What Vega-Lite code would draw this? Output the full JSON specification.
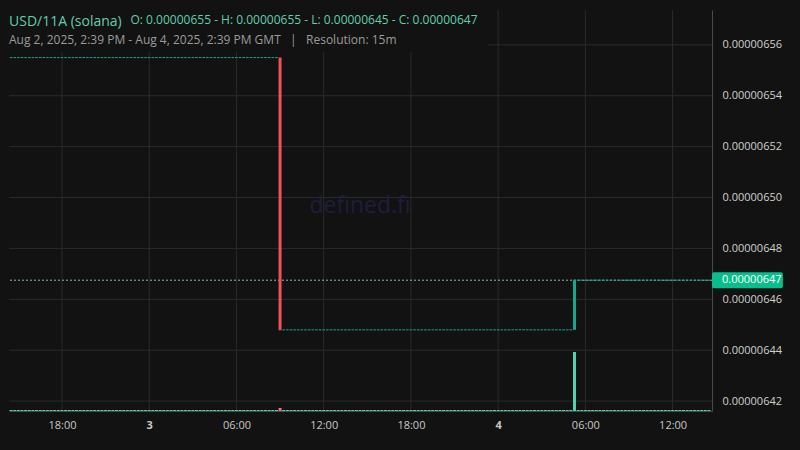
{
"$schema": "https://vega.github.io/schema/vega-lite/v6.json",
"width": 703, "height": 401,
"autosize": "none",
"padding": {"left": 9, "top": 10, "right": 88, "bottom": 39},
"background": "#121212",
"config": {"view": {"stroke": null}, "font": "Open Sans"},
"title": {"text": "USD/11A (solana)", "subtitle": "Aug 2, 2025, 2:39 PM - Aug 4, 2025, 2:39 PM GMT\u00a0\u00a0\u00a0|\u00a0\u00a0\u00a0Resolution: 15m", "anchor": "start", "frame": "group", "orient": "top", "offset": -36, "fontSize": 14, "fontWeight": "normal", "color": "#5fcfac", "font": "Open Sans", "subtitleFont": "Open Sans", "subtitleFontSize": 12, "subtitleColor": "#9b9b9b", "subtitlePadding": 6},
"datasets": {
"vg1": [{"t":"2025-08-02T18:00Z"},{"t":"2025-08-03T00:00Z"},{"t":"2025-08-03T06:00Z"},{"t":"2025-08-03T12:00Z"},{"t":"2025-08-03T18:00Z"}],
"vg2": [{"t":"2025-08-04T00:00Z"},{"t":"2025-08-04T06:00Z"},{"t":"2025-08-04T12:00Z"}],
"hg": [{"p":6.42e-6},{"p":6.44e-6},{"p":6.46e-6},{"p":6.48e-6},{"p":6.50e-6},{"p":6.52e-6},{"p":6.54e-6}],
"candles": [
{"t":"2025-08-02T14:30Z","o":6.555e-6,"c":6.555e-6,"v":20},{"t":"2025-08-02T14:45Z","o":6.555e-6,"c":6.555e-6,"v":20},
{"t":"2025-08-02T15:00Z","o":6.555e-6,"c":6.555e-6,"v":20},{"t":"2025-08-02T15:15Z","o":6.555e-6,"c":6.555e-6,"v":20},{"t":"2025-08-02T15:30Z","o":6.555e-6,"c":6.555e-6,"v":20},{"t":"2025-08-02T15:45Z","o":6.555e-6,"c":6.555e-6,"v":20},
{"t":"2025-08-02T16:00Z","o":6.555e-6,"c":6.555e-6,"v":20},{"t":"2025-08-02T16:15Z","o":6.555e-6,"c":6.555e-6,"v":20},{"t":"2025-08-02T16:30Z","o":6.555e-6,"c":6.555e-6,"v":20},{"t":"2025-08-02T16:45Z","o":6.555e-6,"c":6.555e-6,"v":20},
{"t":"2025-08-02T17:00Z","o":6.555e-6,"c":6.555e-6,"v":20},{"t":"2025-08-02T17:15Z","o":6.555e-6,"c":6.555e-6,"v":20},{"t":"2025-08-02T17:30Z","o":6.555e-6,"c":6.555e-6,"v":20},{"t":"2025-08-02T17:45Z","o":6.555e-6,"c":6.555e-6,"v":20},
{"t":"2025-08-02T18:00Z","o":6.555e-6,"c":6.555e-6,"v":20},{"t":"2025-08-02T18:15Z","o":6.555e-6,"c":6.555e-6,"v":20},{"t":"2025-08-02T18:30Z","o":6.555e-6,"c":6.555e-6,"v":20},{"t":"2025-08-02T18:45Z","o":6.555e-6,"c":6.555e-6,"v":20},
{"t":"2025-08-02T19:00Z","o":6.555e-6,"c":6.555e-6,"v":20},{"t":"2025-08-02T19:15Z","o":6.555e-6,"c":6.555e-6,"v":20},{"t":"2025-08-02T19:30Z","o":6.555e-6,"c":6.555e-6,"v":20},{"t":"2025-08-02T19:45Z","o":6.555e-6,"c":6.555e-6,"v":20},
{"t":"2025-08-02T20:00Z","o":6.555e-6,"c":6.555e-6,"v":20},{"t":"2025-08-02T20:15Z","o":6.555e-6,"c":6.555e-6,"v":20},{"t":"2025-08-02T20:30Z","o":6.555e-6,"c":6.555e-6,"v":20},{"t":"2025-08-02T20:45Z","o":6.555e-6,"c":6.555e-6,"v":20},
{"t":"2025-08-02T21:00Z","o":6.555e-6,"c":6.555e-6,"v":20},{"t":"2025-08-02T21:15Z","o":6.555e-6,"c":6.555e-6,"v":20},{"t":"2025-08-02T21:30Z","o":6.555e-6,"c":6.555e-6,"v":20},{"t":"2025-08-02T21:45Z","o":6.555e-6,"c":6.555e-6,"v":20},
{"t":"2025-08-02T22:00Z","o":6.555e-6,"c":6.555e-6,"v":20},{"t":"2025-08-02T22:15Z","o":6.555e-6,"c":6.555e-6,"v":20},{"t":"2025-08-02T22:30Z","o":6.555e-6,"c":6.555e-6,"v":20},{"t":"2025-08-02T22:45Z","o":6.555e-6,"c":6.555e-6,"v":20},
{"t":"2025-08-02T23:00Z","o":6.555e-6,"c":6.555e-6,"v":20},{"t":"2025-08-02T23:15Z","o":6.555e-6,"c":6.555e-6,"v":20},{"t":"2025-08-02T23:30Z","o":6.555e-6,"c":6.555e-6,"v":20},{"t":"2025-08-02T23:45Z","o":6.555e-6,"c":6.555e-6,"v":20},
{"t":"2025-08-03T00:00Z","o":6.555e-6,"c":6.555e-6,"v":20},{"t":"2025-08-03T00:15Z","o":6.555e-6,"c":6.555e-6,"v":20},{"t":"2025-08-03T00:30Z","o":6.555e-6,"c":6.555e-6,"v":20},{"t":"2025-08-03T00:45Z","o":6.555e-6,"c":6.555e-6,"v":20},
{"t":"2025-08-03T01:00Z","o":6.555e-6,"c":6.555e-6,"v":20},{"t":"2025-08-03T01:15Z","o":6.555e-6,"c":6.555e-6,"v":20},{"t":"2025-08-03T01:30Z","o":6.555e-6,"c":6.555e-6,"v":20},{"t":"2025-08-03T01:45Z","o":6.555e-6,"c":6.555e-6,"v":20},
{"t":"2025-08-03T02:00Z","o":6.555e-6,"c":6.555e-6,"v":20},{"t":"2025-08-03T02:15Z","o":6.555e-6,"c":6.555e-6,"v":20},{"t":"2025-08-03T02:30Z","o":6.555e-6,"c":6.555e-6,"v":20},{"t":"2025-08-03T02:45Z","o":6.555e-6,"c":6.555e-6,"v":20},
{"t":"2025-08-03T03:00Z","o":6.555e-6,"c":6.555e-6,"v":20},{"t":"2025-08-03T03:15Z","o":6.555e-6,"c":6.555e-6,"v":20},{"t":"2025-08-03T03:30Z","o":6.555e-6,"c":6.555e-6,"v":20},{"t":"2025-08-03T03:45Z","o":6.555e-6,"c":6.555e-6,"v":20},
{"t":"2025-08-03T04:00Z","o":6.555e-6,"c":6.555e-6,"v":20},{"t":"2025-08-03T04:15Z","o":6.555e-6,"c":6.555e-6,"v":20},{"t":"2025-08-03T04:30Z","o":6.555e-6,"c":6.555e-6,"v":20},{"t":"2025-08-03T04:45Z","o":6.555e-6,"c":6.555e-6,"v":20},
{"t":"2025-08-03T05:00Z","o":6.555e-6,"c":6.555e-6,"v":20},{"t":"2025-08-03T05:15Z","o":6.555e-6,"c":6.555e-6,"v":20},{"t":"2025-08-03T05:30Z","o":6.555e-6,"c":6.555e-6,"v":20},{"t":"2025-08-03T05:45Z","o":6.555e-6,"c":6.555e-6,"v":20},
{"t":"2025-08-03T06:00Z","o":6.555e-6,"c":6.555e-6,"v":20},{"t":"2025-08-03T06:15Z","o":6.555e-6,"c":6.555e-6,"v":20},{"t":"2025-08-03T06:30Z","o":6.555e-6,"c":6.555e-6,"v":20},{"t":"2025-08-03T06:45Z","o":6.555e-6,"c":6.555e-6,"v":20},
{"t":"2025-08-03T07:00Z","o":6.555e-6,"c":6.555e-6,"v":20},{"t":"2025-08-03T07:15Z","o":6.555e-6,"c":6.555e-6,"v":20},{"t":"2025-08-03T07:30Z","o":6.555e-6,"c":6.555e-6,"v":20},{"t":"2025-08-03T07:45Z","o":6.555e-6,"c":6.555e-6,"v":20},
{"t":"2025-08-03T08:00Z","o":6.555e-6,"c":6.555e-6,"v":20},{"t":"2025-08-03T08:15Z","o":6.555e-6,"c":6.555e-6,"v":20},{"t":"2025-08-03T08:30Z","o":6.555e-6,"c":6.555e-6,"v":20},{"t":"2025-08-03T08:45Z","o":6.555e-6,"c":6.555e-6,"v":20},
{"t":"2025-08-03T09:00Z","o":6.555e-6,"c":6.448e-6,"v":60},{"t":"2025-08-03T09:15Z","o":6.448e-6,"c":6.448e-6,"v":20},{"t":"2025-08-03T09:30Z","o":6.448e-6,"c":6.448e-6,"v":20},{"t":"2025-08-03T09:45Z","o":6.448e-6,"c":6.448e-6,"v":20},
{"t":"2025-08-03T10:00Z","o":6.448e-6,"c":6.448e-6,"v":20},{"t":"2025-08-03T10:15Z","o":6.448e-6,"c":6.448e-6,"v":20},{"t":"2025-08-03T10:30Z","o":6.448e-6,"c":6.448e-6,"v":20},{"t":"2025-08-03T10:45Z","o":6.448e-6,"c":6.448e-6,"v":20},
{"t":"2025-08-03T11:00Z","o":6.448e-6,"c":6.448e-6,"v":20},{"t":"2025-08-03T11:15Z","o":6.448e-6,"c":6.448e-6,"v":20},{"t":"2025-08-03T11:30Z","o":6.448e-6,"c":6.448e-6,"v":20},{"t":"2025-08-03T11:45Z","o":6.448e-6,"c":6.448e-6,"v":20},
{"t":"2025-08-03T12:00Z","o":6.448e-6,"c":6.448e-6,"v":20},{"t":"2025-08-03T12:15Z","o":6.448e-6,"c":6.448e-6,"v":20},{"t":"2025-08-03T12:30Z","o":6.448e-6,"c":6.448e-6,"v":20},{"t":"2025-08-03T12:45Z","o":6.448e-6,"c":6.448e-6,"v":20},
{"t":"2025-08-03T13:00Z","o":6.448e-6,"c":6.448e-6,"v":20},{"t":"2025-08-03T13:15Z","o":6.448e-6,"c":6.448e-6,"v":20},{"t":"2025-08-03T13:30Z","o":6.448e-6,"c":6.448e-6,"v":20},{"t":"2025-08-03T13:45Z","o":6.448e-6,"c":6.448e-6,"v":20},
{"t":"2025-08-03T14:00Z","o":6.448e-6,"c":6.448e-6,"v":20},{"t":"2025-08-03T14:15Z","o":6.448e-6,"c":6.448e-6,"v":20},{"t":"2025-08-03T14:30Z","o":6.448e-6,"c":6.448e-6,"v":20},{"t":"2025-08-03T14:45Z","o":6.448e-6,"c":6.448e-6,"v":20},
{"t":"2025-08-03T15:00Z","o":6.448e-6,"c":6.448e-6,"v":20},{"t":"2025-08-03T15:15Z","o":6.448e-6,"c":6.448e-6,"v":20},{"t":"2025-08-03T15:30Z","o":6.448e-6,"c":6.448e-6,"v":20},{"t":"2025-08-03T15:45Z","o":6.448e-6,"c":6.448e-6,"v":20},
{"t":"2025-08-03T16:00Z","o":6.448e-6,"c":6.448e-6,"v":20},{"t":"2025-08-03T16:15Z","o":6.448e-6,"c":6.448e-6,"v":20},{"t":"2025-08-03T16:30Z","o":6.448e-6,"c":6.448e-6,"v":20},{"t":"2025-08-03T16:45Z","o":6.448e-6,"c":6.448e-6,"v":20},
{"t":"2025-08-03T17:00Z","o":6.448e-6,"c":6.448e-6,"v":20},{"t":"2025-08-03T17:15Z","o":6.448e-6,"c":6.448e-6,"v":20},{"t":"2025-08-03T17:30Z","o":6.448e-6,"c":6.448e-6,"v":20},{"t":"2025-08-03T17:45Z","o":6.448e-6,"c":6.448e-6,"v":20},
{"t":"2025-08-03T18:00Z","o":6.448e-6,"c":6.448e-6,"v":20},{"t":"2025-08-03T18:15Z","o":6.448e-6,"c":6.448e-6,"v":20},{"t":"2025-08-03T18:30Z","o":6.448e-6,"c":6.448e-6,"v":20},{"t":"2025-08-03T18:45Z","o":6.448e-6,"c":6.448e-6,"v":20},
{"t":"2025-08-03T19:00Z","o":6.448e-6,"c":6.448e-6,"v":20},{"t":"2025-08-03T19:15Z","o":6.448e-6,"c":6.448e-6,"v":20},{"t":"2025-08-03T19:30Z","o":6.448e-6,"c":6.448e-6,"v":20},{"t":"2025-08-03T19:45Z","o":6.448e-6,"c":6.448e-6,"v":20},
{"t":"2025-08-03T20:00Z","o":6.448e-6,"c":6.448e-6,"v":20},{"t":"2025-08-03T20:15Z","o":6.448e-6,"c":6.448e-6,"v":20},{"t":"2025-08-03T20:30Z","o":6.448e-6,"c":6.448e-6,"v":20},{"t":"2025-08-03T20:45Z","o":6.448e-6,"c":6.448e-6,"v":20},
{"t":"2025-08-03T21:00Z","o":6.448e-6,"c":6.448e-6,"v":20},{"t":"2025-08-03T21:15Z","o":6.448e-6,"c":6.448e-6,"v":20},{"t":"2025-08-03T21:30Z","o":6.448e-6,"c":6.448e-6,"v":20},{"t":"2025-08-03T21:45Z","o":6.448e-6,"c":6.448e-6,"v":20},
{"t":"2025-08-03T22:00Z","o":6.448e-6,"c":6.448e-6,"v":20},{"t":"2025-08-03T22:15Z","o":6.448e-6,"c":6.448e-6,"v":20},{"t":"2025-08-03T22:30Z","o":6.448e-6,"c":6.448e-6,"v":20},{"t":"2025-08-03T22:45Z","o":6.448e-6,"c":6.448e-6,"v":20},
{"t":"2025-08-03T23:00Z","o":6.448e-6,"c":6.448e-6,"v":20},{"t":"2025-08-03T23:15Z","o":6.448e-6,"c":6.448e-6,"v":20},{"t":"2025-08-03T23:30Z","o":6.448e-6,"c":6.448e-6,"v":20},{"t":"2025-08-03T23:45Z","o":6.448e-6,"c":6.448e-6,"v":20},
{"t":"2025-08-04T00:00Z","o":6.448e-6,"c":6.448e-6,"v":20},{"t":"2025-08-04T00:15Z","o":6.448e-6,"c":6.448e-6,"v":20},{"t":"2025-08-04T00:30Z","o":6.448e-6,"c":6.448e-6,"v":20},{"t":"2025-08-04T00:45Z","o":6.448e-6,"c":6.448e-6,"v":20},
{"t":"2025-08-04T01:00Z","o":6.448e-6,"c":6.448e-6,"v":20},{"t":"2025-08-04T01:15Z","o":6.448e-6,"c":6.448e-6,"v":20},{"t":"2025-08-04T01:30Z","o":6.448e-6,"c":6.448e-6,"v":20},{"t":"2025-08-04T01:45Z","o":6.448e-6,"c":6.448e-6,"v":20},
{"t":"2025-08-04T02:00Z","o":6.448e-6,"c":6.448e-6,"v":20},{"t":"2025-08-04T02:15Z","o":6.448e-6,"c":6.448e-6,"v":20},{"t":"2025-08-04T02:30Z","o":6.448e-6,"c":6.448e-6,"v":20},{"t":"2025-08-04T02:45Z","o":6.448e-6,"c":6.448e-6,"v":20},
{"t":"2025-08-04T03:00Z","o":6.448e-6,"c":6.448e-6,"v":20},{"t":"2025-08-04T03:15Z","o":6.448e-6,"c":6.448e-6,"v":20},{"t":"2025-08-04T03:30Z","o":6.448e-6,"c":6.448e-6,"v":20},{"t":"2025-08-04T03:45Z","o":6.448e-6,"c":6.448e-6,"v":20},
{"t":"2025-08-04T04:00Z","o":6.448e-6,"c":6.448e-6,"v":20},{"t":"2025-08-04T04:15Z","o":6.448e-6,"c":6.448e-6,"v":20},{"t":"2025-08-04T04:30Z","o":6.448e-6,"c":6.448e-6,"v":20},{"t":"2025-08-04T04:45Z","o":6.448e-6,"c":6.448e-6,"v":20},
{"t":"2025-08-04T05:00Z","o":6.448e-6,"c":6.448e-6,"v":20},{"t":"2025-08-04T05:15Z","o":6.448e-6,"c":6.4675e-6,"v":1180},{"t":"2025-08-04T05:30Z","o":6.4675e-6,"c":6.4675e-6,"v":20},{"t":"2025-08-04T05:45Z","o":6.4675e-6,"c":6.4675e-6,"v":20},
{"t":"2025-08-04T06:00Z","o":6.4675e-6,"c":6.4675e-6,"v":20},{"t":"2025-08-04T06:15Z","o":6.4675e-6,"c":6.4675e-6,"v":20},{"t":"2025-08-04T06:30Z","o":6.4675e-6,"c":6.4675e-6,"v":20},{"t":"2025-08-04T06:45Z","o":6.4675e-6,"c":6.4675e-6,"v":20},
{"t":"2025-08-04T07:00Z","o":6.4675e-6,"c":6.4675e-6,"v":20},{"t":"2025-08-04T07:15Z","o":6.4675e-6,"c":6.4675e-6,"v":20},{"t":"2025-08-04T07:30Z","o":6.4675e-6,"c":6.4675e-6,"v":20},{"t":"2025-08-04T07:45Z","o":6.4675e-6,"c":6.4675e-6,"v":20},
{"t":"2025-08-04T08:00Z","o":6.4675e-6,"c":6.4675e-6,"v":20},{"t":"2025-08-04T08:15Z","o":6.4675e-6,"c":6.4675e-6,"v":20},{"t":"2025-08-04T08:30Z","o":6.4675e-6,"c":6.4675e-6,"v":20},{"t":"2025-08-04T08:45Z","o":6.4675e-6,"c":6.4675e-6,"v":20},
{"t":"2025-08-04T09:00Z","o":6.4675e-6,"c":6.4675e-6,"v":20},{"t":"2025-08-04T09:15Z","o":6.4675e-6,"c":6.4675e-6,"v":20},{"t":"2025-08-04T09:30Z","o":6.4675e-6,"c":6.4675e-6,"v":20},{"t":"2025-08-04T09:45Z","o":6.4675e-6,"c":6.4675e-6,"v":20},
{"t":"2025-08-04T10:00Z","o":6.4675e-6,"c":6.4675e-6,"v":20},{"t":"2025-08-04T10:15Z","o":6.4675e-6,"c":6.4675e-6,"v":20},{"t":"2025-08-04T10:30Z","o":6.4675e-6,"c":6.4675e-6,"v":20},{"t":"2025-08-04T10:45Z","o":6.4675e-6,"c":6.4675e-6,"v":20},
{"t":"2025-08-04T11:00Z","o":6.4675e-6,"c":6.4675e-6,"v":20},{"t":"2025-08-04T11:15Z","o":6.4675e-6,"c":6.4675e-6,"v":20},{"t":"2025-08-04T11:30Z","o":6.4675e-6,"c":6.4675e-6,"v":20},{"t":"2025-08-04T11:45Z","o":6.4675e-6,"c":6.4675e-6,"v":20},
{"t":"2025-08-04T12:00Z","o":6.4675e-6,"c":6.4675e-6,"v":20},{"t":"2025-08-04T12:15Z","o":6.4675e-6,"c":6.4675e-6,"v":20},{"t":"2025-08-04T12:30Z","o":6.4675e-6,"c":6.4675e-6,"v":20},{"t":"2025-08-04T12:45Z","o":6.4675e-6,"c":6.4675e-6,"v":20},
{"t":"2025-08-04T13:00Z","o":6.4675e-6,"c":6.4675e-6,"v":20},{"t":"2025-08-04T13:15Z","o":6.4675e-6,"c":6.4675e-6,"v":20},{"t":"2025-08-04T13:30Z","o":6.4675e-6,"c":6.4675e-6,"v":20},{"t":"2025-08-04T13:45Z","o":6.4675e-6,"c":6.4675e-6,"v":20},
{"t":"2025-08-04T14:00Z","o":6.4675e-6,"c":6.4675e-6,"v":20},{"t":"2025-08-04T14:15Z","o":6.4675e-6,"c":6.4675e-6,"v":20},{"t":"2025-08-04T14:30Z","o":6.4675e-6,"c":6.4675e-6,"v":20}
]
},
"layer": [
 {"data": {"name": "vg1"}, "mark": {"type": "rule", "color": "#2b2b2b", "strokeWidth": 1},
  "encoding": {
   "x": {"field": "t", "type": "temporal", "scale": {"type": "utc", "nice": false, "padding": 0, "domain": [{"year":2025,"month":8,"date":2,"hours":14,"minutes":21,"seconds":24,"utc":true},{"year":2025,"month":8,"date":4,"hours":14,"minutes":42,"seconds":30,"utc":true}]}},
   "y": {"datum": 6.4161e-6, "type": "quantitative", "scale": {"domain": [6.4161e-6, 6.5737e-6], "nice": false, "zero": false, "padding": 0}, "axis": null},
   "y2": {"datum": 6.5573e-6}}},
 {"data": {"name": "vg2"}, "mark": {"type": "rule", "color": "#2b2b2b", "strokeWidth": 1},
  "encoding": {
   "x": {"field": "t", "type": "temporal", "scale": {"type": "utc", "nice": false, "padding": 0, "domain": [{"year":2025,"month":8,"date":2,"hours":14,"minutes":21,"seconds":24,"utc":true},{"year":2025,"month":8,"date":4,"hours":14,"minutes":42,"seconds":30,"utc":true}]}}}},
 {"data": {"name": "hg"}, "mark": {"type": "rule", "color": "#2b2b2b", "strokeWidth": 1},
  "encoding": {
   "y": {"field": "p", "type": "quantitative", "scale": {"domain": [6.4161e-6, 6.5737e-6], "nice": false, "zero": false, "padding": 0}, "axis": null}}},
 {"data": {"values": [{}]}, "mark": {"type": "rule", "color": "#2b2b2b", "strokeWidth": 1},
  "encoding": {
   "x": {"datum": {"year":2025,"month":8,"date":3,"hours":23,"minutes":20,"utc":true}, "type": "temporal", "scale": {"type": "utc", "nice": false, "padding": 0, "domain": [{"year":2025,"month":8,"date":2,"hours":14,"minutes":21,"seconds":24,"utc":true},{"year":2025,"month":8,"date":4,"hours":14,"minutes":42,"seconds":30,"utc":true}]}},
   "x2": {"datum": {"year":2025,"month":8,"date":4,"hours":14,"minutes":42,"seconds":30,"utc":true}},
   "y": {"datum": 6.56e-6, "type": "quantitative", "scale": {"domain": [6.4161e-6, 6.5737e-6], "nice": false, "zero": false, "padding": 0}, "axis": null}}},
 {"data": {"values": [{}]}, "mark": {"type": "rule", "color": "#8fb8ae", "strokeWidth": 1, "strokeDash": [2, 2]},
  "encoding": {
   "y": {"datum": 6.4675e-6, "type": "quantitative", "scale": {"domain": [6.4161e-6, 6.5737e-6], "nice": false, "zero": false, "padding": 0}, "axis": null}}},
 {"data": {"values": [{}]}, "mark": {"type": "text", "text": "defined.fi", "fontSize": 23, "font": "Open Sans", "color": "#1e1e3c", "align": "center", "baseline": "middle"},
  "encoding": {
   "x": {"datum": {"year":2025,"month":8,"date":3,"hours":14,"minutes":30,"utc":true}, "type": "temporal", "scale": {"type": "utc", "nice": false, "padding": 0, "domain": [{"year":2025,"month":8,"date":2,"hours":14,"minutes":21,"seconds":24,"utc":true},{"year":2025,"month":8,"date":4,"hours":14,"minutes":42,"seconds":30,"utc":true}]}},
   "y": {"datum": 6.4965e-6, "type": "quantitative", "scale": {"domain": [6.4161e-6, 6.5737e-6], "nice": false, "zero": false, "padding": 0}, "axis": null}}},
 {"data": {"name": "candles"}, "mark": {"type": "bar", "width": 3},
  "encoding": {
   "x": {"field": "t", "type": "temporal", "scale": {"type": "utc", "nice": false, "padding": 0, "domain": [{"year":2025,"month":8,"date":2,"hours":14,"minutes":21,"seconds":24,"utc":true},{"year":2025,"month":8,"date":4,"hours":14,"minutes":42,"seconds":30,"utc":true}]},
    "axis": {"values": [1754157600000, 1754179200000, 1754200800000, 1754222400000, 1754244000000, 1754265600000, 1754287200000, 1754308800000],
     "labelExpr": "utchours(datum.value) === 0 ? utcFormat(datum.value, '%-d') : utcFormat(datum.value, '%H:%M')",
     "labelFontWeight": {"condition": {"test": "utchours(datum.value) === 0", "value": "bold"}, "value": "normal"},
     "grid": false, "ticks": false, "domainColor": "#4a4a4a", "labelColor": "#c8c8c8", "labelFontSize": 11, "labelFont": "Open Sans", "labelPadding": 8, "labelFlush": false, "labelOverlap": false,
     "title": "O: 0.00000655 - H: 0.00000655 - L: 0.00000645 - C: 0.00000647", "titleX": 121, "titleY": -392, "titleAlign": "left", "titleAnchor": "start", "titleBaseline": "middle", "titleAngle": 0, "titleColor": "#5fcfac", "titleFontSize": 12, "titleFontWeight": "normal", "titleFont": "Open Sans"}},
   "y": {"field": "o", "type": "quantitative", "scale": {"domain": [6.4161e-6, 6.5737e-6], "nice": false, "zero": false, "padding": 0},
    "axis": {"orient": "right", "values": [6.42e-6, 6.44e-6, 6.46e-6, 6.48e-6, 6.50e-6, 6.52e-6, 6.54e-6, 6.56e-6], "format": ".8f", "grid": false, "ticks": false, "domainColor": "#4a4a4a", "labelColor": "#d0d0d0", "labelFontSize": 11, "labelFont": "Open Sans", "labelPadding": 10, "labelFlush": false, "labelOverlap": false, "title": null}},
   "y2": {"field": "c"},
   "color": {"condition": {"test": "datum.c < datum.o", "value": "#f0525d"}, "value": "#14a98e"}}},
 {"data": {"name": "candles"}, "mark": {"type": "tick", "orient": "horizontal", "size": 2.6, "thickness": 1, "opacity": 1},
  "encoding": {
   "x": {"field": "t", "type": "temporal", "scale": {"type": "utc", "nice": false, "padding": 0, "domain": [{"year":2025,"month":8,"date":2,"hours":14,"minutes":21,"seconds":24,"utc":true},{"year":2025,"month":8,"date":4,"hours":14,"minutes":42,"seconds":30,"utc":true}]}},
   "y": {"field": "c", "type": "quantitative", "scale": {"domain": [6.4161e-6, 6.5737e-6], "nice": false, "zero": false, "padding": 0}, "axis": null},
   "color": {"condition": {"test": "datum.c < datum.o", "value": "#f0525d"}, "value": "#14a98e"}}},
 {"data": {"values": [{}]}, "mark": {"type": "rect", "color": "#08bf8b", "cornerRadius": 2},
  "encoding": {
   "x": {"datum": {"year":2025,"month":8,"date":4,"hours":14,"minutes":42,"seconds":30,"utc":true}, "type": "temporal", "scale": {"type": "utc", "nice": false, "padding": 0, "domain": [{"year":2025,"month":8,"date":2,"hours":14,"minutes":21,"seconds":24,"utc":true},{"year":2025,"month":8,"date":4,"hours":14,"minutes":42,"seconds":30,"utc":true}]}},
   "x2": {"datum": {"year":2025,"month":8,"date":4,"hours":19,"minutes":35,"utc":true}},
   "y": {"datum": 6.4706e-6, "type": "quantitative", "scale": {"domain": [6.4161e-6, 6.5737e-6], "nice": false, "zero": false, "padding": 0}, "axis": null},
   "y2": {"datum": 6.4643e-6}}},
 {"data": {"values": [{}]}, "mark": {"type": "text", "text": "0.00000647", "fontSize": 11, "font": "Open Sans", "color": "#ffffff", "align": "left", "baseline": "middle"},
  "encoding": {
   "x": {"datum": {"year":2025,"month":8,"date":4,"hours":15,"minutes":24,"utc":true}, "type": "temporal", "scale": {"type": "utc", "nice": false, "padding": 0, "domain": [{"year":2025,"month":8,"date":2,"hours":14,"minutes":21,"seconds":24,"utc":true},{"year":2025,"month":8,"date":4,"hours":14,"minutes":42,"seconds":30,"utc":true}]}},
   "y": {"datum": 6.4675e-6, "type": "quantitative", "scale": {"domain": [6.4161e-6, 6.5737e-6], "nice": false, "zero": false, "padding": 0}, "axis": null}}},
 {"data": {"name": "candles"}, "mark": {"type": "bar", "width": 3},
  "encoding": {
   "x": {"field": "t", "type": "temporal", "scale": {"type": "utc", "nice": false, "padding": 0, "domain": [{"year":2025,"month":8,"date":2,"hours":14,"minutes":21,"seconds":24,"utc":true},{"year":2025,"month":8,"date":4,"hours":14,"minutes":42,"seconds":30,"utc":true}]}},
   "y": {"field": "v", "type": "quantitative", "scale": {"domain": [0, 8020], "nice": false, "padding": 0}, "axis": null},
   "color": {"condition": {"test": "datum.c < datum.o", "value": "#f2737d"}, "value": "#50d2b0"}}}
],
"resolve": {"scale": {"y": "independent"}}
}
